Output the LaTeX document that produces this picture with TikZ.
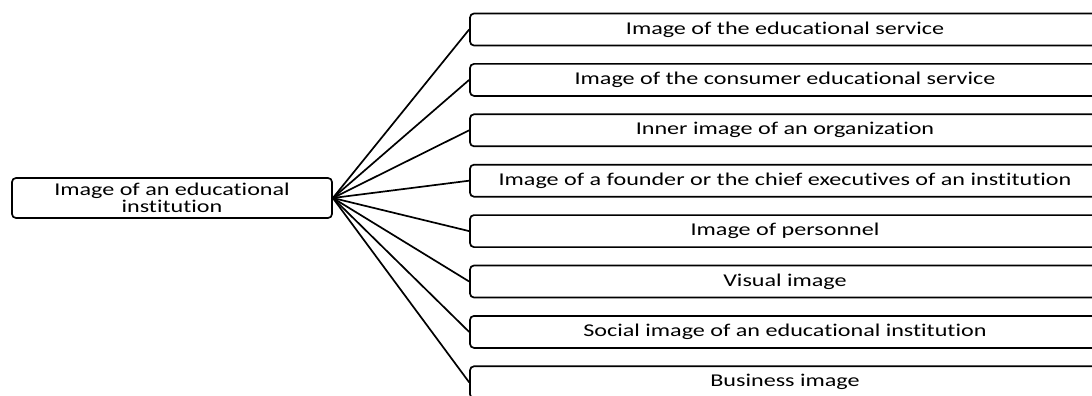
\documentclass[tikz,border=0pt]{standalone}
\usepackage{fontspec}
\setmainfont{Carlito}[FakeStretch=1.34, Ligatures=NoCommon]
\usepackage{tikz}
\usetikzlibrary{positioning}

\begin{document}
\begin{tikzpicture}[x=1pt, y=-1pt,
    rootbox/.style={draw, line width=1.7pt, rounded corners=4pt, minimum width=320pt, minimum height=40pt, align=center, font=\fontsize{18}{17}\selectfont},
    itembox/.style={draw, line width=1.7pt, rounded corners=4pt, minimum width=630pt, minimum height=32pt, font=\fontsize{18}{17}\selectfont},
    link/.style={line width=1.7pt}]
    % Picture frame
    \useasboundingbox (0,0) rectangle (1092,396);
    \clip (0,0) rectangle (1092,396);

    % Draw the main box
    \node[rootbox] (root) at (172,198) {Image of an educational\\institution};

    % Draw the kinds of image and link them to the main box
    \foreach \i/\t in {1/Image of the educational service, 2/Image of the consumer educational service, 3/Inner image of an organization, 4/Image of a founder or the chief executives of an institution, 5/Image of personnel, 6/Visual image, 7/Social image of an educational institution, 8/Business image} {
      \node[itembox] (item\i) at (785, 29.5+50.4*\i-50.4) {\t};
      \draw[link] (root.east) -- (item\i.west);
    }
\end{tikzpicture}
\end{document}
